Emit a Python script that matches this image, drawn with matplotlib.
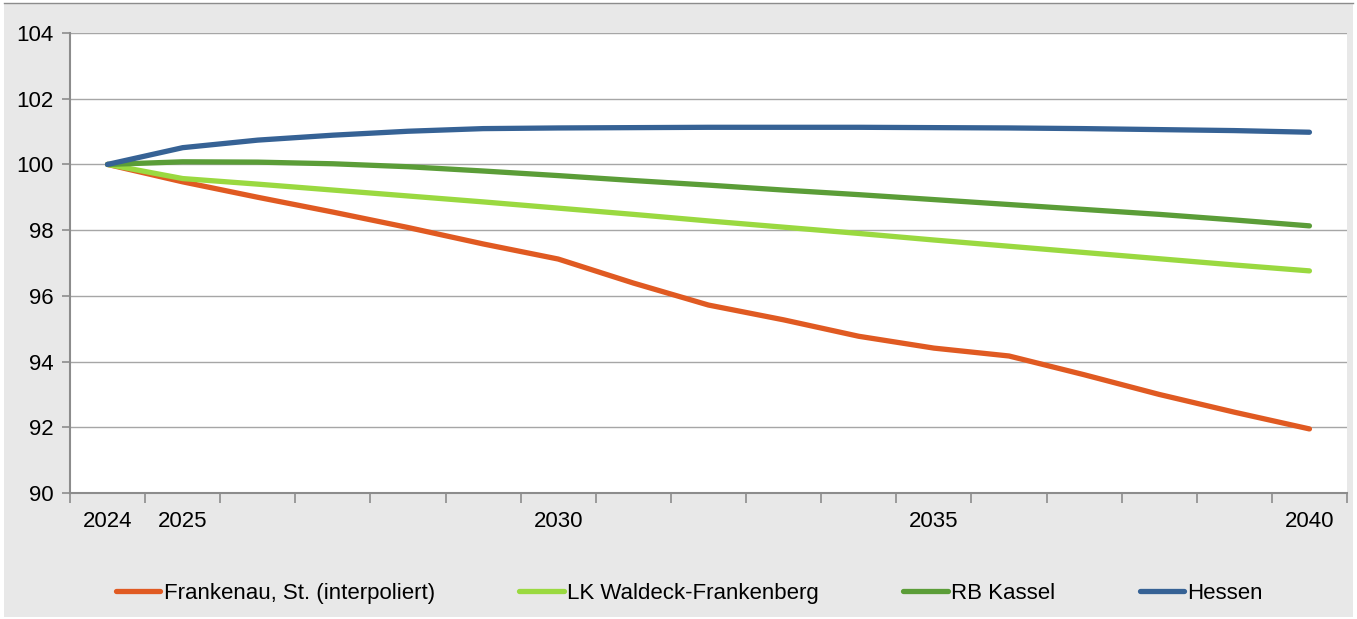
import numpy as np
import matplotlib
matplotlib.use("Agg")
from matplotlib import pyplot as plt
from matplotlib.patches import Rectangle
from matplotlib.lines import Line2D

plt.rcParams['font.family'] = ['Liberation Sans', 'DejaVu Sans']

# daten (index 2024 = 100)
jahre = list(range(2024, 2041))
frankenau = [100, 99.47, 99.0, 98.55, 98.08, 97.58, 97.12, 96.39, 95.72, 95.27,
             94.77, 94.41, 94.17, 93.60, 93.0, 92.46, 91.95]
waldeck = [100, 99.57, 99.40, 99.22, 99.04, 98.86, 98.67, 98.48, 98.28, 98.09,
           97.90, 97.70, 97.51, 97.32, 97.13, 96.94, 96.76]
kassel = [100, 100.08, 100.07, 100.02, 99.93, 99.80, 99.66, 99.51, 99.37, 99.22,
          99.08, 98.93, 98.78, 98.63, 98.48, 98.31, 98.13]
hessen = [100, 100.51, 100.74, 100.89, 101.01, 101.09, 101.11, 101.12, 101.13, 101.13,
          101.13, 101.12, 101.11, 101.09, 101.06, 101.03, 100.98]

namen = ['Frankenau, St. (interpoliert)', 'LK Waldeck-Frankenberg', 'RB Kassel', 'Hessen']
farben = ['#E05A22', '#9AD940', '#5B9D38', '#366295']
reihen = [frankenau, waldeck, kassel, hessen]

beschriftet = [2024, 2025, 2030, 2035, 2040]

fig = plt.figure(figsize=(13.57, 6.19), dpi=100)
fig.patch.set_facecolor('white')
# grauer hintergrund wie im original
hg = Rectangle((4 / 1357, 2 / 619), 1349 / 1357, 614 / 619,
               transform=fig.transFigure, facecolor='#E8E8E8',
               edgecolor='none', zorder=-10)
fig.patches.append(hg)
fig.lines.append(Line2D([4 / 1357, 1353 / 1357], [616 / 619, 616 / 619],
                        transform=fig.transFigure, color='#8c8c8c', lw=1, zorder=-9))

ax = fig.add_axes([70 / 1357, 126 / 619, 1277 / 1357, 460 / 619])
ax.set_facecolor('white')

x = np.arange(len(jahre))
for werte, farbe, name in zip(reihen, farben, namen):
    ax.plot(x, werte, color=farbe, lw=3.8, label=name,
            solid_capstyle='round', solid_joinstyle='round', zorder=3)

ax.set_xlim(-0.5, len(jahre) - 0.5)
ax.set_ylim(90, 104)
ax.set_yticks(np.arange(90, 105, 2))
ax.yaxis.grid(True, color='#a6a6a6', lw=1)
ax.set_axisbelow(True)

ax.set_xticks([jahre.index(j) for j in beschriftet])
ax.set_xticklabels([str(j) for j in beschriftet])
ax.set_xticks(np.arange(-0.5, len(jahre)), minor=True)
ax.tick_params(axis='x', which='major', length=0, pad=13, labelsize=16)
ax.tick_params(axis='x', which='minor', length=7, width=1.2, color='#8c8c8c', direction='out')
ax.tick_params(axis='y', length=6, width=1.2, color='#8c8c8c', pad=6, labelsize=16)

for s in ['top', 'right']:
    ax.spines[s].set_visible(False)
for s in ['left', 'bottom']:
    ax.spines[s].set_color('#8c8c8c')
    ax.spines[s].set_linewidth(1.5)

fig.legend(loc='center', bbox_to_anchor=(0.508, 0.041), ncol=4, frameon=False,
           fontsize=16, handlelength=2.0, handletextpad=0.15, columnspacing=3.8)

plt.savefig('out.png', dpi=100)
